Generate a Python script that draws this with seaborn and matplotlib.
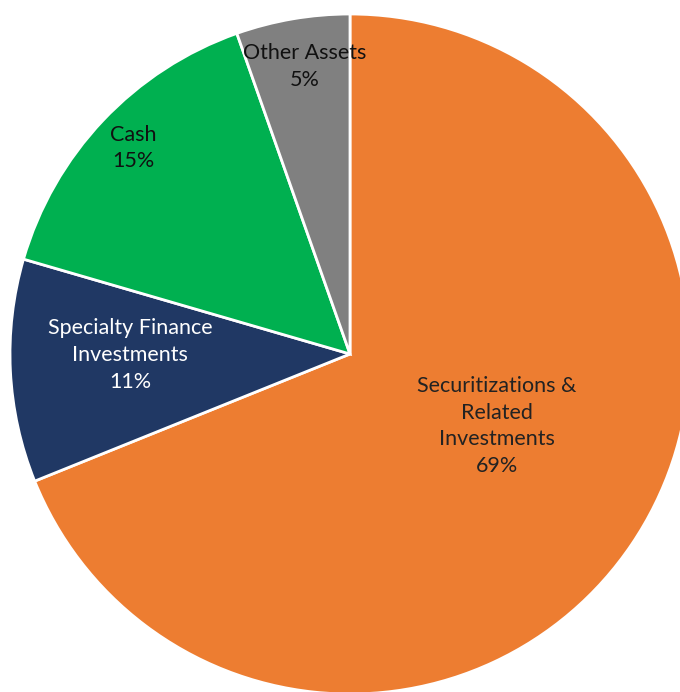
import matplotlib
matplotlib.use("Agg")
import matplotlib.pyplot as plt
import seaborn as sns

categories = ["Securitizations &\nRelated\nInvestments", "Specialty Finance\nInvestments", "Cash", "Other Assets"]
values = [68.9, 10.6, 15.1, 5.4]
pct_labels = ["69%", "11%", "15%", "5%"]

sns.set_theme(style="white")
plt.rcParams['font.family'] = ['Lato', 'DejaVu Sans']

colors = sns.color_palette(["#ED7D31", "#203864", "#00B050", "#808080"])
text_colors = ["#222222", "#FFFFFF", "#111111", "#111111"]
label_pos = [(0.432, -0.212), (-0.647, -0.003), (-0.638, 0.606), (-0.132, 0.845)]

fig = plt.figure(figsize=(6.8, 6.92), dpi=100)
ax = fig.add_axes([0, 0, 1, 1])
R = 340.0
ax.pie(values, colors=colors, startangle=90, counterclock=False, radius=1.0,
       wedgeprops=dict(edgecolor="white", linewidth=2))
ax.set_xlim(-350 / R, 330 / R)
ax.set_ylim(-338 / R, 354 / R)
ax.set_aspect("equal")
ax.axis("off")

for cat, pct, (x, y), tc in zip(categories, pct_labels, label_pos, text_colors):
    ax.text(x, y, f"{cat}\n{pct}", ha="center", va="center", fontsize=15.5,
            color=tc, linespacing=1.42)

fig.savefig("out.png", dpi=100)
